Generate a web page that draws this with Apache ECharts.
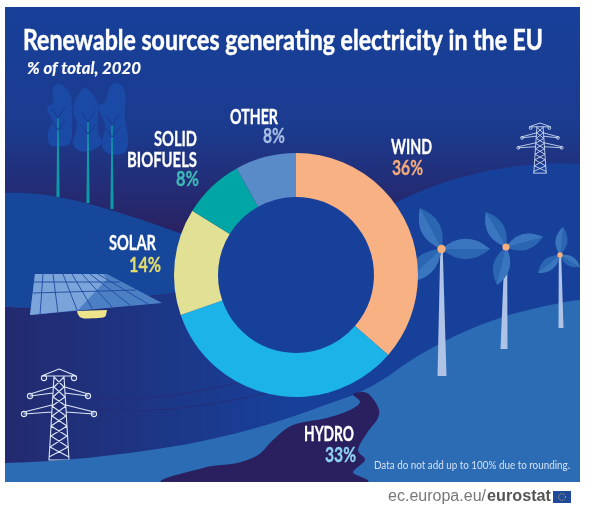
<!DOCTYPE html>
<html><head><meta charset="utf-8">
<style>html,body{margin:0;padding:0;background:#fff}#c{width:600px;height:507px}</style>
<script src="https://cdn.jsdelivr.net/npm/echarts@6/dist/echarts.min.js"></script>
</head><body><div id="c"></div>
<script>
const categories = ['WIND','HYDRO','SOLAR','SOLID\nBIOFUELS','OTHER'];
const shares = [36,33,14,8,8];
const sliceColors = ['#f7b183','#1bb3e8','#e1e094','#00a6a6','#5a8bc9'];
const valueColors = ['#f4ab7c','#8fd3f2','#e3dd6e','#3fb9b5','#a9bee6'];
const title = 'Renewable sources generating electricity in the EU';
const subtitle = '% of total, 2020';
const note = 'Data do not add up to 100% due to rounding.';
// [left, centreY, width] for each text line of each category, value line last
const labelLines = [
  [[391,147.5,41],[392,168,31]],
  [[304,434,50],[325,455,31]],
  [[109,243,47],[129,265,32]],
  [[154,139.5,43],[127,160,70],[176,179.5,23]],
  [[230,117.5,48],[263,136.5,22]]
];

const chart = echarts.init(document.getElementById('c'), null, {renderer:'canvas'});
const P = (d, fill, extra) => ({type:'path', shape:{pathData:d}, style:Object.assign({fill:fill||'none'}, extra||{}), silent:true});
const S = (d, stroke, w) => P(d, null, {stroke, lineWidth:w, lineJoin:'round', lineCap:'round'});
const LG = (x0,y0,x1,y1,stops) => new echarts.graphic.LinearGradient(x0,y0,x1,y1,stops);

const mctx = document.createElement('canvas').getContext('2d');
function fitText(text, font, fill, x, cy, width, heavy){
  mctx.font = font;
  const w = mctx.measureText(text).width;
  const style = {text, fill, font, verticalAlign:'middle', align:'left'};
  if (heavy) { style.stroke = fill; style.lineWidth = heavy; }
  return {type:'text', z:10, silent:true, x, y:cy, scaleX:width/w, style};
}
function blob(pts){
  const n=pts.length; let d=`M${pts[0][0]} ${pts[0][1]}`;
  for(let i=0;i<n;i++){
    const p0=pts[(i-1+n)%n],p1=pts[i],p2=pts[(i+1)%n],p3=pts[(i+2)%n];
    d+=`C${(p1[0]+(p2[0]-p0[0])/6).toFixed(1)} ${(p1[1]+(p2[1]-p0[1])/6).toFixed(1)} ${(p2[0]-(p3[0]-p1[0])/6).toFixed(1)} ${(p2[1]-(p3[1]-p1[1])/6).toFixed(1)} ${p2[0]} ${p2[1]}`;
  }
  return d+'Z';
}
function tower(cx, top, s, color, lw, sx){
  sx = sx||s;
  const X = v => +(cx + v*sx).toFixed(1), Y = v => +(top + v*s).toFixed(1);
  let d = '';
  const L = pts => { d += 'M' + pts.map(p => X(p[0])+' '+Y(p[1])).join('L'); };
  L([[-15,6],[0,0],[15,6]]);
  L([[-17,7],[17,7]]);
  L([[-5,7],[-10,91]]); L([[5,7],[10,91]]); L([[-10,91],[10,91]]);
  L([[-29,25],[-6,18]]); L([[29,25],[6,18]]); L([[-29,27],[-6,24]]); L([[29,27],[6,24]]);
  L([[-35,43],[-7,36]]); L([[35,43],[7,36]]); L([[-35,45],[-7,43]]); L([[35,45],[7,43]]);
  L([[-5,8],[5,18],[-6,28],[7,37],[-7,47],[8,57],[-8,67],[9,78],[-10,88]]);
  L([[5,8],[-5,18],[6,28],[-7,37],[7,47],[-8,57],[8,67],[-9,78],[10,88]]);
  const out = [S(d,color,lw)];
  [[-15,9],[15,9],[-29,27],[29,27],[-35,45],[35,45]].forEach(p=>{
    out.push({type:'circle',shape:{cx:X(p[0]),cy:Y(p[1]),r:2.6*s},style:{fill:'none',stroke:color,lineWidth:lw},silent:true});
  });
  return out;
}
function blade(hx,hy,tx,ty){
  const mx=(hx+tx)/2,my=(hy+ty)/2,dx=tx-hx,dy=ty-hy,b=0.42;
  const c1x=(mx-dy*b).toFixed(1),c1y=(my+dx*b).toFixed(1),c2x=(mx+dy*b).toFixed(1),c2y=(my-dx*b).toFixed(1);
  return [
    P(`M${hx} ${hy}Q${c1x} ${c1y} ${tx} ${ty}Q${c2x} ${c2y} ${hx} ${hy}Z`,'#2b66b2'),
    P(`M${hx} ${hy}Q${c2x} ${c2y} ${tx} ${ty}Z`,'#3a76bf')
  ];
}
function turbine(hx,hy,bx,by,bw,tips,r){
  const out=[P(`M${hx-1.2} ${hy}L${hx+1.2} ${hy}L${bx+bw/2} ${by}L${bx-bw/2} ${by}Z`,'#aec3e6')];
  tips.forEach(t=>out.push(...blade(hx,hy,t[0],t[1])));
  out.push({type:'circle',shape:{cx:hx,cy:hy,r},style:{fill:'#f9b07c'},silent:true});
  return out;
}
function tree(x,topY,botY,pts){
  return [
    P(blob(pts),'#1a4aa5'),
    P(`M${x-0.6} ${topY}L${x+0.6} ${topY}L${x+1.6} ${botY}L${x-1.6} ${botY}Z`,'#0e99a6'),
    S(`M${x-6} ${topY-10}L${x} ${topY}L${x+7} ${topY-11}M${x-6} ${topY+3}L${x} ${topY+12}L${x+7} ${topY+3}`,'#173a8c',1)
  ];
}
function scene(){
  const kids=[];
  kids.push({type:'rect',shape:{x:5,y:7,width:575,height:475},style:{fill:LG(0,0,0,1,[{offset:0,color:'#17409a'},{offset:0.25,color:'#1b3b8f'},{offset:0.49,color:'#2a2060'},{offset:1,color:'#2a2060'}])},silent:true});
  kids.push(...tree(58,118,197,[[60,84],[69,92],[72,105],[72,132],[70,143],[63,146],[50,145],[48,132],[52,122],[47,108],[53,103],[53,88]]));
  kids.push(...tree(88,122,203,[[87,88],[97,102],[98,112],[98,132],[102,142],[93,150],[80,151],[73,143],[77,125],[73,108],[80,92]]));
  kids.push(...tree(112,125,209,[[118,83],[125,92],[125,118],[128,138],[125,152],[110,154],[102,145],[105,125],[98,107],[105,102],[110,87]]));
  kids.push(P('M5 193C60 190 120 212 200 240L200 290C120 298 60 312 5 307Z','#17479b'));
  kids.push(P('M5 307C60 314 120 302 200 288L420 240L580 200L580 482L5 482Z',LG(0,0,1,0,[{offset:0,color:'#232a6f'},{offset:0.5,color:'#17409a'},{offset:1,color:'#17409a'}])));
  kids.push(P('M395 203C450 175 520 160 580 164L580 330L395 400Z','#17409a'));
  kids.push(S('M95 398C150 402 200 392 245 381','#2a2b75',0.8));
  kids.push(S('M95 410C160 414 220 404 272 392','#2a2b75',0.8));
  // solar panel
  kids.push(P('M77 311L107 310L106 315C105 318 103 318 86 318.5C80 318.5 78 316 77 311Z','#eee48a'));
  kids.push(P('M35 274L107 274L162 303L30 315Z','#4d7fc4'));
  kids.push(P('M35 274L103 274L107 279L78 310L30 315Z','#7ba4da'));
  kids.push(S('M34 282L120 282M33 293L136 290M43 274L40 315M53 274L58 313M63 274L77 310M72 274L92 308M82 274L112 307M90 274L130 305M98 274L148 304','#1f4a9e',0.9));
  kids.push(...tower(59,369,1,'#dbe5f5',1.1));
  kids.push(...tower(540,123,0.55,'#c8d7ef',0.9,0.62));
  // light foreground hill
  kids.push(P('M5 463C60 462 120 455 170 447C215 440 260 428 303 413C325 405 340 400 353 395C365 390 378 383 390 375C420 352 470 325 520 312C545 306 565 301 580 300L580 482L5 482Z','#2b6cb5'));
  kids.push(...turbine(441.5,249,442,376,9,[[420,208],[490,249],[406,282]],4.2));
  kids.push(...turbine(506,247,504,349,7,[[486,212],[543,237],[497,285]],3.6));
  kids.push(...turbine(560,255,561,328,5,[[563,227],[538,273],[580,267]],2.7));
  // river
  kids.push(P(blob([[168,484],[203,468],[237,463],[258,455],[273,440],[293,425],[327,418],[350,410],[360,402],[353,394],[367,393],[378,407],[378,418],[367,433],[358,450],[365,460],[353,472],[356,484]]),'#2a2060'));
  kids.push({type:'rect',shape:{x:0,y:482,width:600,height:25},style:{fill:'#fff'},silent:true});
  kids.push({type:'circle',shape:{cx:296,cy:275,r:80},style:{fill:'#17409a'},silent:true});
  // EU flag
  kids.push({type:'rect',shape:{x:553,y:491,width:18,height:12},style:{fill:'#1f4a9c'},silent:true});
  kids.push({type:'circle',shape:{cx:562,cy:497,r:3.4},style:{fill:'none',stroke:'#d8c94a',lineWidth:0.9,lineDash:[1,1.2]},silent:true});
  return {type:'group',children:kids};
}
const labelFont='bold 21px Lato,sans-serif';
const labelTexts=[];
categories.forEach((c,i)=>{
  const lines=c.split('\n'), slots=labelLines[i];
  lines.forEach((t,j)=>labelTexts.push(fitText(t,labelFont,'#fff',slots[j][0],slots[j][1],slots[j][2],0.3)));
  const v=slots[lines.length];
  labelTexts.push(fitText(shares[i]+'%',labelFont,valueColors[i],v[0],v[1],v[2],0.3));
});
chart.setOption({
  animation:false,
  backgroundColor:'#ffffff',
  graphic:[
    fitText(title,'bold 28px Lato,sans-serif','#fff',23,40.5,520,0.5),
    fitText(subtitle,'italic bold 17px Lato,sans-serif','#fff',27,69,114,0.2),
    fitText(note,'10.5px Lato,sans-serif','#d4e0f3',374,466,196),
    fitText('ec.europa.eu/','16px "Liberation Sans",sans-serif','#777',388,497,98),
    fitText('eurostat','bold 16px "Liberation Sans",sans-serif','#555',487,497,64),
    ...labelTexts
  ],
  series:[
    {type:'custom',coordinateSystem:'none',z:1,silent:true,data:[[0]],renderItem:()=>scene()},
    {type:'pie',z:5,silent:true,startAngle:90,clockwise:true,center:[296,275],radius:[78,122],
     data:categories.map((c,i)=>({name:c,value:shares[i],itemStyle:{color:sliceColors[i]}})),
     label:{show:false},labelLine:{show:false}}
  ]
});
</script></body></html>
